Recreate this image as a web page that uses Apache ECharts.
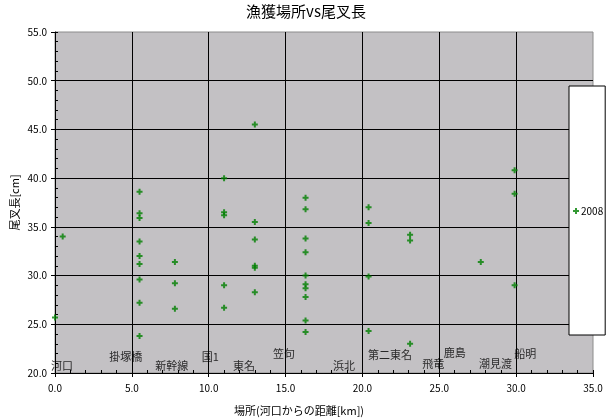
<!DOCTYPE html>
<html><head><meta charset="utf-8">
<script src="https://cdn.jsdelivr.net/npm/echarts@6/dist/echarts.min.js"></script>
<style>html,body{margin:0;padding:0;background:#fff}#c{width:606px;height:419px}</style>
</head><body><div id="c"></div>
<script>
// Distance from river mouth [km] for each sampling site
const siteKm = [0.0, 0.5, 5.5, 7.8, 11.0, 13.0, 16.3, 20.4, 23.1, 27.7, 29.9];
// Fork lengths [cm] measured at each site (2008)
const forkLen2008 = [
  [25.7],
  [34.0],
  [38.6, 36.4, 35.9, 33.5, 32.0, 31.2, 29.6, 27.2, 23.8],
  [31.4, 29.2, 26.6],
  [40.0, 36.5, 36.2, 29.0, 26.7],
  [45.5, 35.5, 33.7, 31.0, 30.8, 28.3],
  [38.0, 36.8, 33.8, 32.4, 30.0, 29.1, 28.7, 27.8, 25.4, 24.2],
  [37.0, 35.4, 29.9, 24.3],
  [34.2, 33.6, 23.0],
  [31.4],
  [40.8, 38.4, 29.0]
];
// Place-name annotations inside the plot (data coordinates)
const placeNames = ['河口','掛塚橋','新幹線','国1','東名','笠句','浜北','第二東名','飛竜','鹿島','潮見渡','船明'];
const placeX = [0.45, 4.6, 7.6, 10.1, 12.3, 14.9, 18.8, 21.8, 24.6, 26.0, 28.65, 30.6];
const placeY = [20.75, 21.7, 20.77, 21.64, 20.77, 21.94, 20.77, 21.88, 20.9, 22.1, 20.9, 21.98];
const xTicks = {min: 0, max: 35, step: 5};
const yTicks = {min: 20, max: 55, step: 5};

const points = [];
siteKm.forEach((x, i) => forkLen2008[i].forEach(y => points.push([x, y])));
const placeData = placeNames.map((n, i) => ({name: n, value: [placeX[i], placeY[i]]}));

const plus = 'path://M2,0H4V2H6V4H4V6H2V4H0V2H2Z';
const font = '"Noto Sans CJK JP", "DejaVu Sans", sans-serif';

const chart = echarts.init(document.getElementById('c'), null, {renderer: 'canvas'});
chart.setOption({
  animation: false,
  backgroundColor: '#ffffff',
  textStyle: {fontFamily: font},
  title: {
    text: '漁獲場所vs尾叉長', left: 301, top: -1, textAlign: 'center',
    textStyle: {fontSize: 15, fontWeight: 'normal', color: '#000', fontFamily: font}
  },
  legend: {
    data: [{name: '2008', icon: plus}],
    orient: 'vertical',
    left: 569, top: 86,
    padding: [120, 2, 119, 4],
    itemWidth: 6, itemHeight: 6,
    backgroundColor: '#ffffff',
    borderColor: '#000', borderWidth: 1, borderRadius: 0,
    textStyle: {fontSize: 10, color: '#000', fontFamily: font, padding: [0, 0, 0, -3]}
  },
  grid: {
    left: 55, right: 13, top: 32, bottom: 46,
    containLabel: false, outerBoundsMode: 'none',
    show: true, backgroundColor: '#c3c1c4', borderColor: '#8c8c8c', borderWidth: 1
  },
  xAxis: [{
    type: 'value', min: xTicks.min, max: xTicks.max, interval: xTicks.step,
    name: '場所(河口からの距離[km])', nameLocation: 'middle', nameGap: 32,
    nameTextStyle: {fontSize: 11, color: '#000', padding: [0, 50, 0, 0], fontFamily: font},
    axisLine: {lineStyle: {color: '#000', width: 1}},
    axisTick: {show: true, inside: false, length: 4, lineStyle: {color: '#000'}},
    axisLabel: {fontSize: 10, color: '#000', margin: 10, formatter: v => v.toFixed(1)},
    splitLine: {show: true, showMinLine: false, showMaxLine: false, lineStyle: {color: '#000', width: 1}}
  }, {
    type: 'value', position: 'bottom', min: xTicks.min, max: xTicks.max, interval: 1,
    axisLine: {show: false},
    axisTick: {show: true, inside: true, length: 3, lineStyle: {color: '#000'}},
    axisLabel: {show: false}, splitLine: {show: false}
  }],
  yAxis: [{
    type: 'value', min: yTicks.min, max: yTicks.max, interval: yTicks.step,
    name: '尾叉長[cm]', nameLocation: 'middle', nameGap: 35, nameMoveOverlap: false,
    nameTextStyle: {fontSize: 11, color: '#000', fontFamily: font},
    axisLine: {show: true, lineStyle: {color: '#000', width: 1}},
    axisTick: {show: true, inside: false, length: 4, lineStyle: {color: '#000'}},
    axisLabel: {fontSize: 10, color: '#000', margin: 8, formatter: v => v.toFixed(1)},
    splitLine: {show: true, showMinLine: false, showMaxLine: false, lineStyle: {color: '#000', width: 1}}
  }, {
    type: 'value', position: 'left', min: yTicks.min, max: yTicks.max, interval: 1,
    axisLine: {show: false},
    axisTick: {show: true, inside: true, length: 3, lineStyle: {color: '#000'}},
    axisLabel: {show: false}, splitLine: {show: false}
  }],
  series: [{
    name: '2008', type: 'scatter', xAxisIndex: 0, yAxisIndex: 0,
    symbol: plus, symbolSize: 6,
    itemStyle: {color: '#008000'},
    data: points, z: 5
  }, {
    name: 'places', type: 'scatter', xAxisIndex: 0, yAxisIndex: 0,
    symbolSize: 0, silent: true,
    label: {show: true, position: 'inside', formatter: '{b}', fontSize: 11, color: '#000', fontFamily: font},
    data: placeData, z: 4
  }]
});
</script></body></html>
